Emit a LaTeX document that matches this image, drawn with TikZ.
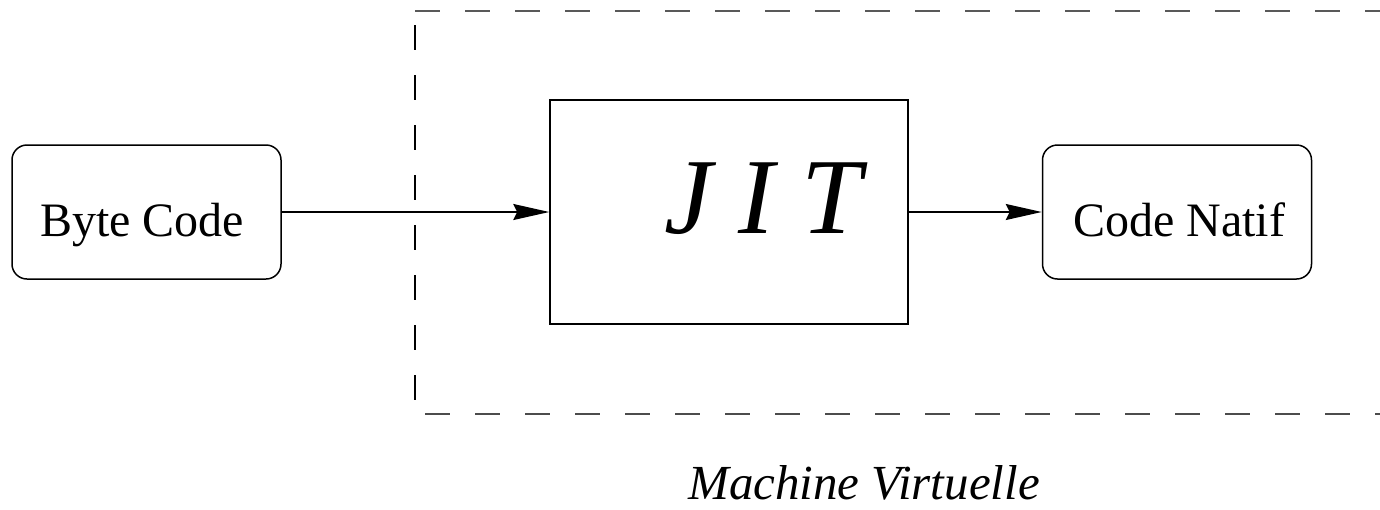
\documentclass[tikz,border=0pt]{standalone}
\usepackage{fontspec}
\setmainfont{Liberation Serif}
\usetikzlibrary{arrows.meta}
\tikzset{
  fig/.style={line width=1.5pt, draw=black},
  roundbox/.style={fig, rounded corners=15pt, minimum width=269pt, minimum height=134pt, inner sep=0pt},
  sqbox/.style={fig, minimum width=358pt, minimum height=224pt, inner sep=0pt},
  lbl/.style={font=\fontsize{48}{56}\selectfont, anchor=base, inner sep=0pt},
  vdash/.style={line width=1.6pt, dash pattern=on 25pt off 25pt},
  conn/.style={line width=1.8pt, -{Stealth[length=36pt,width=16pt,inset=4pt]}},
}
\begin{document}
\begin{tikzpicture}[x=1pt,y=-1pt]
\useasboundingbox (0,0) rectangle (1380,509);
\begin{scope}
\clip (0,0) rectangle (1380,509);
\draw[vdash, draw=black!65] (415,11) -- (1420,11);
\draw[vdash] (415,25) -- (415,400);
\draw[vdash, draw=black!70] (425,414) -- (1420,414);
\end{scope}
\node[roundbox] (bc) at (146.5,212) {};
\node[sqbox] (jit) at (729,212) {};
\node[roundbox] (cn) at (1177,212) {};
\node[lbl] (bct) at (142,236) {Byte Code};
\node[lbl] (cnt) at (1179,236) {Code Natif};
\node[font=\fontsize{108}{120}\selectfont\itshape, anchor=base, inner sep=0pt] (jitt) at (763,233) {J I T};
\node[font=\fontsize{49}{56}\selectfont\itshape, anchor=base west, inner sep=0pt] (mv) at (688,499) {Machine Virtuelle};
\draw[conn] (bc.east) -- (jit.west);
\draw[conn] (jit.east) -- (cn.west);
\end{tikzpicture}
\end{document}
